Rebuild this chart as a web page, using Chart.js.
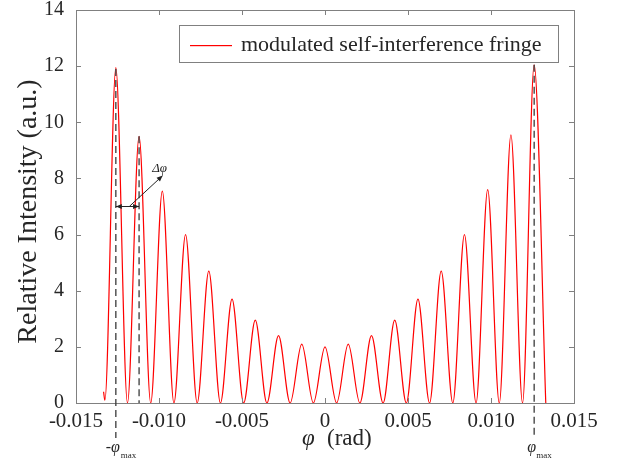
<!DOCTYPE html>
<html>
<head>
<meta charset="utf-8">
<script src="https://cdn.jsdelivr.net/npm/chart.js@4/dist/chart.umd.min.js"></script>
<style>
  html, body { margin: 0; padding: 0; background: #fff; }
  canvas { display: block; }
</style>
</head>
<body>
<canvas id="fringe" width="618" height="462"></canvas>
<script>
// fringe: peaks and valleys, left to right
const phi = [-0.01334, -0.01326, -0.0126, -0.0119, -0.0112, -0.0105, -0.0098, -0.0091, -0.0084, -0.0077,
             -0.0070, -0.0063, -0.0056, -0.0049, -0.0042, -0.0035, -0.0028, -0.0021, -0.0014, -0.0007,
             0, 0.0007, 0.0014, 0.0021, 0.0028, 0.0035, 0.0042, 0.0049, 0.0056, 0.0063,
             0.0070, 0.0077, 0.0084, 0.0091, 0.0098, 0.0105, 0.0112, 0.0119, 0.0126, 0.0133];
const intensity = [0.4, 0.1, 11.95, 0, 9.5, 0, 7.55, 0, 6.0, 0,
                   4.7, 0, 3.7, 0, 2.95, 0, 2.4, 0, 2.1, 0,
                   2.0, 0, 2.1, 0, 2.4, 0, 2.95, 0, 3.7, 0,
                   4.7, 0, 6.0, 0, 7.6, 0, 9.55, 0, 12.05, 0];

const seriesLabel = 'modulated self-interference fringe';
const phiMax = 0.0126;      // outermost fringe
const phiNext = -0.0112;    // neighbour used for the spacing arrow
const arrowLevel = 7;

const serif = '"Liberation Serif", "Times New Roman", serif';
const axisGray = '#808080';
const textColor = '#262626';

function arrowHead(ctx, x1, y1, x2, y2) {
    const a = Math.atan2(y2 - y1, x2 - x1);
    ctx.beginPath();
    ctx.moveTo(x2, y2);
    ctx.lineTo(x2 - 6 * Math.cos(a) + 2.5 * Math.sin(a), y2 - 6 * Math.sin(a) - 2.5 * Math.cos(a));
    ctx.lineTo(x2 - 6 * Math.cos(a) - 2.5 * Math.sin(a), y2 - 6 * Math.sin(a) + 2.5 * Math.cos(a));
    ctx.closePath();
    ctx.fill();
}

// no extra room for overhanging tick labels, the box is fixed
function fixBox(s, size) {
    if (s.isHorizontal()) s.height = size; else s.width = size;
    s.paddingTop = 0; s.paddingBottom = 0; s.paddingLeft = 0; s.paddingRight = 0;
}

const matlabAxes = {
    id: 'matlabAxes',
    afterDatasetsDraw(chart) {
        const ctx = chart.ctx;
        const x = chart.scales.x, y = chart.scales.y;
        const a = chart.chartArea;
        ctx.save();

        // box and inward ticks
        ctx.strokeStyle = axisGray;
        ctx.lineWidth = 1;
        ctx.strokeRect(a.left + 0.5, a.top + 0.5, a.right - a.left, a.bottom - a.top);
        ctx.beginPath();
        x.ticks.forEach(t => {
            const px = Math.round(x.getPixelForValue(t.value)) + 0.5;
            ctx.moveTo(px, a.bottom); ctx.lineTo(px, a.bottom - 5);
            ctx.moveTo(px, a.top); ctx.lineTo(px, a.top + 5);
        });
        y.ticks.forEach(t => {
            const py = Math.round(y.getPixelForValue(t.value)) + 0.5;
            ctx.moveTo(a.left, py); ctx.lineTo(a.left + 5, py);
            ctx.moveTo(a.right, py); ctx.lineTo(a.right - 5, py);
        });
        ctx.stroke();

        // dashed markers at -phi_max, phi_max and the next fringe
        ctx.strokeStyle = '#3a3a3a';
        ctx.lineWidth = 1.3;
        ctx.setLineDash([7, 4]);
        const marks = [[-phiMax, 11.9, a.bottom + 35], [phiMax, 12.05, a.bottom + 35], [phiNext, 9.5, a.bottom]];
        marks.forEach(m => {
            const px = x.getPixelForValue(m[0]);
            ctx.beginPath();
            ctx.moveTo(px, y.getPixelForValue(m[1]));
            ctx.lineTo(px, m[2]);
            ctx.stroke();
        });
        ctx.setLineDash([]);

        // spacing arrow
        ctx.strokeStyle = '#222';
        ctx.fillStyle = '#222';
        ctx.lineWidth = 1;
        const ax1 = x.getPixelForValue(-phiMax), ax2 = x.getPixelForValue(phiNext);
        const ay = y.getPixelForValue(arrowLevel);
        ctx.beginPath(); ctx.moveTo(ax1, ay); ctx.lineTo(ax2, ay); ctx.stroke();
        arrowHead(ctx, ax2, ay, ax1, ay);
        arrowHead(ctx, ax1, ay, ax2, ay);
        const dx1 = x.getPixelForValue(-0.01179), dx2 = x.getPixelForValue(-0.00978);
        const dy2 = y.getPixelForValue(8.1);
        ctx.beginPath(); ctx.moveTo(dx1, ay); ctx.lineTo(dx2, dy2); ctx.stroke();
        arrowHead(ctx, dx1, ay, dx2, dy2);
        ctx.font = 'italic 13px ' + serif;
        ctx.textAlign = 'center';
        ctx.textBaseline = 'alphabetic';
        ctx.fillText('Δφ', dx2 - 3, dy2 - 4);

        // phi_max labels under the axis
        ctx.fillStyle = textColor;
        const lx = x.getPixelForValue(-phiMax), rx = x.getPixelForValue(phiMax);
        ctx.textAlign = 'right';
        ctx.font = 'italic 16px ' + serif;
        ctx.fillText('-φ', lx + 4, a.bottom + 49);
        ctx.fillText('φ', rx + 2, a.bottom + 49);
        ctx.textAlign = 'left';
        ctx.font = '9px ' + serif;
        ctx.fillText('max', lx + 5, a.bottom + 55);
        ctx.fillText('max', rx + 2, a.bottom + 55);

        // axis titles
        const cx = (a.left + a.right) / 2;
        ctx.font = 'italic 23px ' + serif;
        ctx.fillText('φ', cx - 23, a.bottom + 42);
        ctx.font = '23px ' + serif;
        ctx.fillText('(rad)', cx + 2, a.bottom + 42);
        ctx.save();
        ctx.translate(36, (a.top + a.bottom) / 2 + 5);
        ctx.rotate(-Math.PI / 2);
        ctx.textAlign = 'center';
        ctx.font = '28px ' + serif;
        ctx.fillText('Relative Intensity (a.u.)', 0, 0);
        ctx.restore();

        // legend box
        ctx.fillStyle = '#fff';
        ctx.fillRect(179.5, 25.5, 379, 37);
        ctx.strokeStyle = axisGray;
        ctx.lineWidth = 1;
        ctx.strokeRect(179.5, 25.5, 379, 37);
        ctx.fillStyle = '#ff0000';
        ctx.fillRect(190, 45, 42, 1.2);
        ctx.fillStyle = textColor;
        ctx.font = '22px ' + serif;
        ctx.textAlign = 'left';
        ctx.fillText(seriesLabel, 241, 51);

        ctx.restore();
    }
};

new Chart(document.getElementById('fringe'), {
    type: 'line',
    data: {
        datasets: [{
            label: seriesLabel,
            data: phi.map((p, i) => ({ x: p, y: intensity[i] })),
            borderColor: '#ff0000',
            borderWidth: 1.2,
            pointRadius: 0,
            cubicInterpolationMode: 'monotone',
            fill: false
        }]
    },
    options: {
        responsive: false,
        animation: false,
        devicePixelRatio: 1,
        layout: { padding: { top: 10, right: 44, left: 0, bottom: 0 } },
        plugins: { legend: { display: false }, tooltip: { enabled: false } },
        scales: {
            x: {
                type: 'linear',
                min: -0.015, max: 0.015,
                grid: { display: false, drawTicks: false },
                border: { display: false },
                ticks: {
                    stepSize: 0.005,
                    padding: 6,
                    color: textColor,
                    font: { family: serif, size: 21 },
                    maxRotation: 0,
                    callback: v => Math.abs(v) < 1e-9 ? '0' : v.toFixed(3)
                },
                afterFit: s => fixBox(s, 59)
            },
            y: {
                min: 0, max: 14,
                grid: { display: false, drawTicks: false },
                border: { display: false },
                ticks: {
                    stepSize: 2,
                    padding: 12,
                    color: textColor,
                    font: { family: serif, size: 20 }
                },
                afterFit: s => fixBox(s, 76)
            }
        }
    },
    plugins: [matlabAxes]
});
</script>
</body>
</html>
